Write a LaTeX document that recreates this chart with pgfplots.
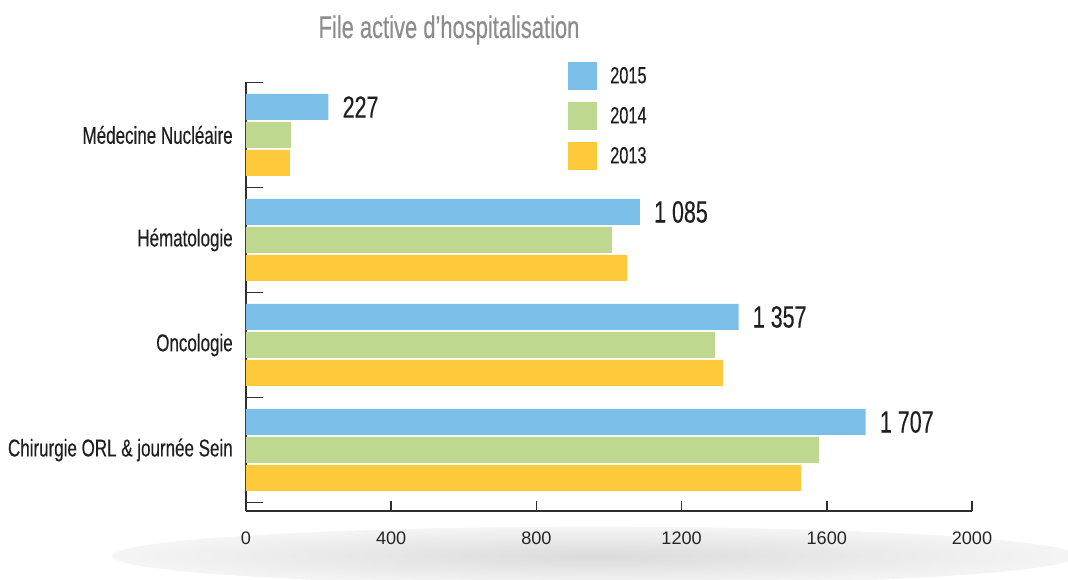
\documentclass[border=0pt]{standalone}
\usepackage{pgfplots}
\pgfplotsset{compat=1.18}
\usepackage{fontspec}
\setmainfont{Liberation Sans}[FakeStretch=0.7, FakeBold=0.3]
\newfontfamily\tickfont{Liberation Sans}

\definecolor{c15}{HTML}{7BBEE8}
\definecolor{c14}{HTML}{BFD890}
\definecolor{c13}{HTML}{FECA3C}
\definecolor{axisgray}{HTML}{2E2E2E}
\definecolor{titlegray}{HTML}{8C8C8C}

% 1 px of the reference = 0.75pt
\pgfplotsset{
  sqlegend/.style={legend image code/.code={\fill[##1] (0pt,-10.5pt) rectangle (21.75pt,10.5pt);}},
}

\begin{document}
\begin{tikzpicture}
\useasboundingbox (0,0) rectangle (801pt,435pt);
% grey shadow under the axis
\shade[inner color=black!14, outer color=black!4] (446pt,18pt) ellipse (362pt and 22pt);

\begin{axis}[
  at={(184.5pt,51.75pt)}, anchor=south west,
  scale only axis,
  width=544.5pt, height=321.4pt,
  xbar,
  bar width=19.5pt,
  xmin=0, xmax=2000,
  ymin=-0.581, ymax=3.5,
  axis x line*=bottom, axis y line*=left,
  axis line style={-, draw=axisgray, line width=1.6pt},
  tick style={draw=axisgray, line width=1.3pt},
  tick align=inside,
  major tick length=7.5pt,
  minor tick length=12.75pt,
  xtick={0,400,...,2000},
  ytick={0,1,2,3},
  yticklabels={Chirurgie ORL \& journée Sein, Oncologie, Hématologie, Médecine Nucléaire},
  minor ytick={-0.5,0.5,1.5,2.5,3.5},
  major y tick style={draw=none},
  yticklabel style={font=\fontsize{18.2}{20}\selectfont, text=black!88, inner sep=0pt, anchor=east, xshift=-9.75pt},
  xticklabel style={font=\tickfont\fontsize{13.6}{16}\selectfont, text=black!85, yshift=-12pt,
    /pgf/number format/1000 sep={}},
  /pgf/number format/assume math mode=true,
  scaled x ticks=false,
  title={File active d'hospitalisation},
  title style={at={(axis description cs:0.2796,1.104)}, anchor=center, font=\fontsize{23.5}{26}\selectfont, text=titlegray},
  legend style={draw=none, fill=none, inner sep=0pt, row sep=9pt,
    at={(axis description cs:0.4435,1.048)}, anchor=north west,
    font=\fontsize{17.5}{19}\selectfont, text=black!88,
    nodes={inner sep=0pt},
    /tikz/every odd column/.append style={column sep=9.75pt}},
  legend cell align=left,
  clip=false,
]
\addplot[fill=c15, draw=none, bar shift=21pt, sqlegend,
  nodes near coords, point meta=explicit symbolic,
  nodes near coords style={anchor=west, inner sep=0pt, xshift=10.5pt,
    font=\fontsize{23}{25}\selectfont, text=black!88}]
  coordinates {
  (227,3) [227]
  (1085,2) [1~085]
  (1357,1) [1~357]
  (1707,0) [1~707]
};
\addplot[fill=c14, draw=none, bar shift=0pt, sqlegend] coordinates {
  (124,3)
  (1008,2)
  (1292,1)
  (1579,0)
};
\addplot[fill=c13, draw=none, bar shift=-21pt, sqlegend] coordinates {
  (121,3)
  (1050,2)
  (1314,1)
  (1529,0)
};
\legend{2015,2014,2013}
\end{axis}
\end{tikzpicture}
\end{document}
